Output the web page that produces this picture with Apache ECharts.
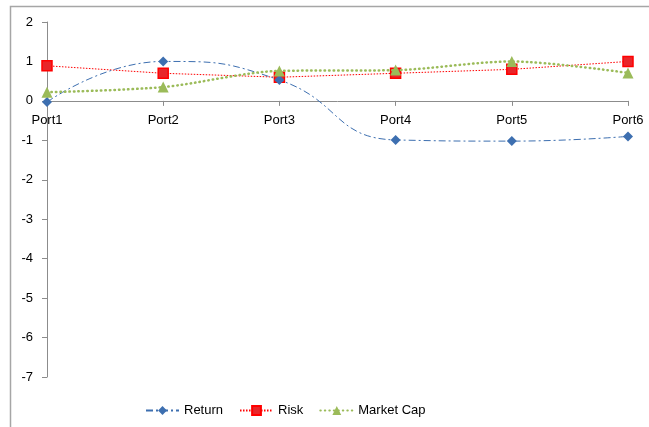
<!DOCTYPE html>
<html>
<head>
<meta charset="utf-8">
<script src="https://cdn.jsdelivr.net/npm/echarts@6/dist/echarts.min.js"></script>
<style>
  html, body { margin: 0; padding: 0; background: #fff; }
  #chart { width: 649px; height: 427px; }
</style>
</head>
<body>
<div id="chart"></div>
<script>
// Portfolio factor scores
const categories = ['Port1', 'Port2', 'Port3', 'Port4', 'Port5', 'Port6'];
const returnValues = [-0.03, 1.0, 0.53, -0.99, -1.02, -0.9];
const riskValues = [0.89, 0.7, 0.6, 0.7, 0.8, 1.0];
const marketCapValues = [0.22, 0.35, 0.76, 0.78, 1.0, 0.71];
const yTicks = { min: -7, max: 2, interval: 1 };

const font = '"Liberation Sans", Arial, sans-serif';
const gridTop = 22, gridBottom = 50, chartHeight = 427;
const plotHeight = chartHeight - gridTop - gridBottom;
// category axis sits on the value-axis zero line
const zeroOffset = plotHeight * (0 - yTicks.min) / (yTicks.max - yTicks.min);

const chart = echarts.init(document.getElementById('chart'), null, { renderer: 'canvas' });

chart.setOption({
  animation: false,
  backgroundColor: '#fff',
  graphic: [{
    type: 'rect',
    shape: { x: 10.5, y: 6.5, width: 700, height: 500 },
    style: { fill: 'none', stroke: '#a6a6a6', lineWidth: 1.5 },
    silent: true
  }],
  grid: { left: 47, right: 21, top: gridTop, bottom: gridBottom },
  xAxis: {
    type: 'category',
    data: categories,
    boundaryGap: false,
    offset: -zeroOffset,
    axisLine: { onZero: false, lineStyle: { color: '#8c8c8c', width: 1 } },
    axisTick: { show: true, alignWithLabel: true, length: 5, lineStyle: { color: '#8c8c8c' } },
    axisLabel: { color: '#000', fontSize: 13, fontFamily: font, margin: 13 },
    splitLine: { show: false }
  },
  yAxis: {
    type: 'value',
    min: yTicks.min,
    max: yTicks.max,
    interval: yTicks.interval,
    axisLine: { show: true, lineStyle: { color: '#8c8c8c', width: 1 } },
    axisTick: { show: true, length: 5, lineStyle: { color: '#8c8c8c' } },
    axisLabel: { color: '#000', fontSize: 13, fontFamily: font, margin: 14 },
    splitLine: { show: false }
  },
  legend: {
    left: 140,
    top: 399,
    itemWidth: 33,
    itemHeight: 11,
    itemGap: 16,
    textStyle: { color: '#000', fontSize: 13, fontFamily: font },
    data: ['Return', 'Risk', 'Market Cap']
  },
  series: [
    {
      name: 'Return',
      type: 'line',
      data: returnValues,
      smooth: 0.5,
      symbol: 'diamond',
      symbolSize: 10,
      itemStyle: { color: '#3d6fb0' },
      lineStyle: { color: '#3d6fb0', width: 1, type: [7, 3, 2, 3] },
      z: 3
    },
    {
      name: 'Risk',
      type: 'line',
      data: riskValues,
      smooth: false,
      symbol: 'rect',
      symbolSize: 10,
      itemStyle: { color: '#e8262a', borderColor: '#ff0000', borderWidth: 1.5 },
      lineStyle: { color: '#ff0000', width: 1, type: [1.5, 1.5] },
      z: 2
    },
    {
      name: 'Market Cap',
      type: 'line',
      data: marketCapValues,
      smooth: 0.3,
      symbol: 'triangle',
      symbolSize: 11,
      itemStyle: { color: '#9bbb59' },
      lineStyle: { color: '#9bbb59', width: 2.5, type: [0.5, 4], cap: 'round' },
      z: 4
    }
  ]
});
</script>
</body>
</html>
